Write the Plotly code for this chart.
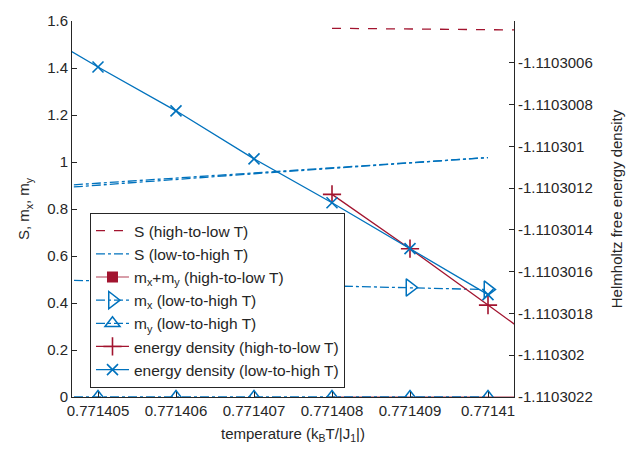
import plotly.graph_objects as go

# ---- data ----
T_lh = [0.771404, 0.771405, 0.771406, 0.771407, 0.771408, 0.771409, 0.771410]
T_hl = [0.771408, 0.771409, 0.771410, 0.771411]

S_hl = [1.569, 1.566, 1.563, 1.560]
S_lh = [0.888, 0.910, 0.932, 0.954, 0.975, 0.997, 1.019]
S_lh_b = [0.877, 0.902, 0.926, 0.950, 0.973, 0.995, 1.019]
mxy_hl = [0.0, 0.0, 0.0, 0.0]
mx_lh = [0.498, 0.495, 0.488, 0.480, 0.471, 0.466, 0.457]
my_lh = [0.0, 0.0, 0.0, 0.0, 0.0, 0.0, 0.0]
E_hl = [-1.11030123, -1.11030149, -1.11030176, -1.11030203]
E_lh = [-1.11030040, -1.11030062, -1.11030083, -1.11030106, -1.11030127, -1.11030149, -1.11030171]

x_ticks = [0.771405, 0.771406, 0.771407, 0.771408, 0.771409, 0.771410]
x_ticktext = ["0.771405", "0.771406", "0.771407", "0.771408", "0.771409", "0.77141"]
y_ticks = [0, 0.2, 0.4, 0.6, 0.8, 1.0, 1.2, 1.4, 1.6]
y_ticktext = ["0", "0.2", "0.4", "0.6", "0.8", "1", "1.2", "1.4", "1.6"]
y2_ticks = [-1.1103022, -1.1103020, -1.1103018, -1.1103016, -1.1103014,
            -1.1103012, -1.1103010, -1.1103008, -1.1103006]
y2_ticktext = ["-1.1103022", "-1.110302", "-1.1103018", "-1.1103016", "-1.1103014",
               "-1.1103012", "-1.110301", "-1.1103008", "-1.1103006"]

BLUE = "#0072BD"
RED = "#A2142F"
LW = 1.3

fig = go.Figure()

fig.add_trace(go.Scatter(x=T_hl, y=S_hl, mode="lines", name="S (high-to-low T)",
                         line=dict(color=RED, width=LW, dash="dash")))
fig.add_trace(go.Scatter(x=T_lh, y=S_lh, mode="lines", name="S (low-to-high T)",
                         line=dict(color=BLUE, width=LW, dash="dashdot")))
fig.add_trace(go.Scatter(x=T_lh, y=S_lh_b, mode="lines", showlegend=False,
                         line=dict(color=BLUE, width=LW, dash="dashdot")))
# m_x+m_y line (no markers on the plot) + legend entry
fig.add_trace(go.Scatter(x=T_hl, y=mxy_hl, mode="lines", showlegend=False,
                         line=dict(color="rgba(162,20,47,0.55)", width=LW)))
fig.add_trace(go.Scatter(x=[None], y=[None], mode="lines+markers",
                         name="m<sub>x</sub>+m<sub>y</sub> (high-to-low T)",
                         line=dict(color="rgba(162,20,47,0.55)", width=LW),
                         marker=dict(symbol="square", size=11, color=RED)))
fig.add_trace(go.Scatter(x=T_lh, y=mx_lh, mode="lines+markers",
                         name="m<sub>x</sub> (low-to-high T)",
                         line=dict(color=BLUE, width=LW, dash="dashdot"),
                         marker=dict(symbol="triangle-right-open", size=15,
                                     color=BLUE, line=dict(width=1.5))))
fig.add_trace(go.Scatter(x=T_lh, y=my_lh, mode="lines+markers",
                         name="m<sub>y</sub> (low-to-high T)",
                         line=dict(color=BLUE, width=LW, dash="dashdot"),
                         marker=dict(symbol="triangle-up-open", size=13,
                                     color=BLUE, line=dict(width=1.5))))
fig.add_trace(go.Scatter(x=T_hl, y=E_hl, mode="lines+markers", yaxis="y2",
                         name="energy density (high-to-low T)",
                         line=dict(color=RED, width=LW),
                         marker=dict(symbol="cross-thin-open", size=13,
                                     color=RED, line=dict(width=1.6, color=RED))))
fig.add_trace(go.Scatter(x=T_lh, y=E_lh, mode="lines+markers", yaxis="y2",
                         name="energy density (low-to-high T)",
                         line=dict(color=BLUE, width=LW),
                         marker=dict(symbol="x-thin-open", size=11,
                                     color=BLUE, line=dict(width=1.6, color=BLUE))))

FONT = "Liberation Sans, Arial, sans-serif"
FS = 15
axis_common = dict(showgrid=False, zeroline=False, showline=True, linecolor="#262626",
                   linewidth=1, ticks="inside", ticklen=5, tickcolor="#262626",
                   tickfont=dict(size=FS, color="#262626"))

fig.update_layout(
    width=644, height=452,
    margin=dict(l=72, r=130, t=12, b=54),
    plot_bgcolor="white", paper_bgcolor="white",
    font=dict(family=FONT, size=FS, color="#262626"),
    xaxis=dict(range=[0.7714046667, 0.7714103333], tickvals=x_ticks, ticktext=x_ticktext,
               title=dict(text="temperature (k<sub>B</sub>T/|J<sub>1</sub>|)",
                          font=dict(size=FS), standoff=10),
               **axis_common),
    yaxis=dict(range=[0, 1.6], tickvals=y_ticks, ticktext=y_ticktext,
               title=dict(text="S, m<sub>x</sub>, m<sub>y</sub>", font=dict(size=FS), standoff=13),
               **axis_common),
    yaxis2=dict(range=[-1.1103022, -1.1103004], tickvals=y2_ticks, ticktext=y2_ticktext,
                overlaying="y", side="right", anchor="x",
                title=dict(text="Helmholtz free energy density", font=dict(size=FS), standoff=19),
                **axis_common),
    legend=dict(x=0.0407, y=0.489, xanchor="left", yanchor="top",
                bgcolor="white", bordercolor="#262626", borderwidth=1,
                itemwidth=33,
                font=dict(size=15.5, color="#262626"), tracegroupgap=0),
    showlegend=True,
)

fig.write_html("out.html")
